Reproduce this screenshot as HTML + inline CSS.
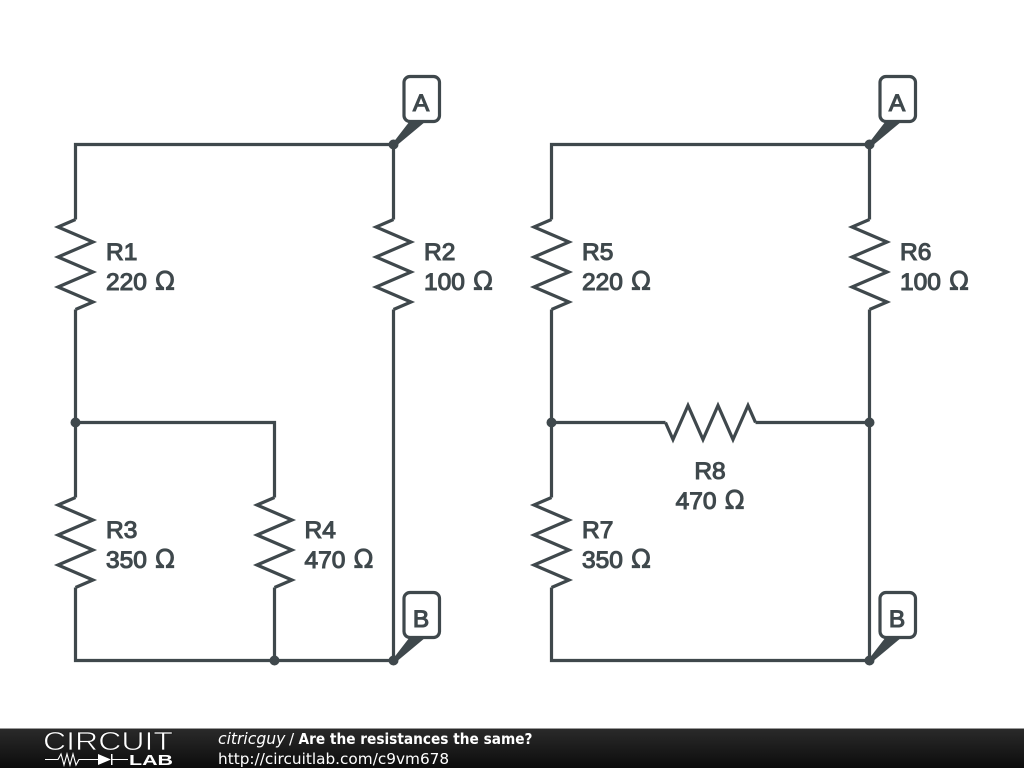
<!DOCTYPE html>
<html><head><meta charset="utf-8">
<style>
html,body{margin:0;padding:0;background:#fff;width:1024px;height:768px;overflow:hidden}
svg{display:block}
.l{font-family:"Liberation Sans",sans-serif;font-size:24.5px;fill:#3f484c;stroke:#3f484c;stroke-width:1.1px;word-spacing:1.5px}
.t{font-family:"Liberation Sans",sans-serif;font-size:24.5px;fill:#3f484c;stroke:#3f484c;stroke-width:1.1px;text-anchor:middle;word-spacing:1.5px}
.o{font-family:"DejaVu Sans",sans-serif;font-size:25.5px;stroke-width:.8px}
.f{font-family:"DejaVu Sans",sans-serif;font-size:15.3px;fill:#fff}
</style></head><body>
<svg width="1024" height="768" viewBox="0 0 1024 768" xmlns="http://www.w3.org/2000/svg">
<defs>
<linearGradient id="g" x1="0" y1="0" x2="0" y2="1"><stop offset="0" stop-color="#2a2a2a"/><stop offset="1" stop-color="#0c0c0c"/></linearGradient>
</defs>
<rect width="1024" height="768" fill="#fff"/>
<g transform="translate(.5 .5)">
<g fill="none" stroke="#3f484c" stroke-width="3.2" stroke-linejoin="miter" stroke-linecap="butt">
<path d="M393 144H75V219M393 144V219M75 309V497M393 309V660M75 422H274V497M75 587V660H393M274 587V660"/>
<path d="M75 219L57.500 226.500L92.500 241.500L57.500 256.500L92.500 271.500L57.500 286.500L92.500 301.500L75 309"/>
<path d="M393 219L375.500 226.500L410.500 241.500L375.500 256.500L410.500 271.500L375.500 286.500L410.500 301.500L393 309"/>
<path d="M75 497L57.500 504.500L92.500 519.500L57.500 534.500L92.500 549.500L57.500 564.500L92.500 579.500L75 587"/>
<path d="M274 497L256.500 504.500L291.500 519.500L256.500 534.500L291.500 549.500L256.500 564.500L291.500 579.500L274 587"/>
<path d="M869 144H551V219M869 144V219M551 309V497M869 309V660M551 422H665M755 422H869M551 587V660H869"/>
<path d="M551 219L533.500 226.500L568.500 241.500L533.500 256.500L568.500 271.500L533.500 286.500L568.500 301.500L551 309"/>
<path d="M869 219L851.500 226.500L886.500 241.500L851.500 256.500L886.500 271.500L851.500 286.500L886.500 301.500L869 309"/>
<path d="M551 497L533.500 504.500L568.500 519.500L533.500 534.500L568.500 549.500L533.500 564.500L568.500 579.500L551 587"/>
<path d="M665 422L672.500 439L687.500 405L702.500 439L717.500 405L732.500 439L747.500 405L755 422"/>
</g>
<g fill="#3f484c">
<circle cx="393" cy="144" r="5"/><circle cx="75" cy="422" r="5"/><circle cx="274" cy="660" r="5"/><circle cx="393" cy="660" r="5"/>
<circle cx="869" cy="144" r="5"/><circle cx="551" cy="422" r="5"/><circle cx="869" cy="422" r="5"/><circle cx="869" cy="660" r="5"/>
<path d="M392 143L409 121L425 121L395 146Z"/>
<path d="M868 143L885 121L901 121L871 146Z"/>
<path d="M392 659L409 637L425 637L395 662Z"/>
<path d="M868 659L885 637L901 637L871 662Z"/>
</g>
<g fill="#fff" stroke="#3f484c" stroke-width="3.200">
<rect x="403.500" y="76" width="35.500" height="45" rx="6"/>
<rect x="879.500" y="76" width="35.500" height="45" rx="6"/>
<rect x="403.500" y="592" width="35.500" height="45" rx="6"/>
<rect x="879.500" y="592" width="35.500" height="45" rx="6"/>
</g>
</g>
<text class="t" x="421" y="111">A</text>
<text class="t" x="897" y="111">A</text>
<text class="t" x="421" y="627">B</text>
<text class="t" x="897" y="627">B</text>
<text class="l" x="106" y="260">R1</text><text class="l" x="106" y="290">220 <tspan class="o">Ω</tspan></text>
<text class="l" x="424" y="260">R2</text><text class="l" x="424" y="290">100 <tspan class="o">Ω</tspan></text>
<text class="l" x="106" y="538">R3</text><text class="l" x="106" y="568">350 <tspan class="o">Ω</tspan></text>
<text class="l" x="304.500" y="538">R4</text><text class="l" x="304.500" y="568">470 <tspan class="o">Ω</tspan></text>
<text class="l" x="582" y="260">R5</text><text class="l" x="582" y="290">220 <tspan class="o">Ω</tspan></text>
<text class="l" x="900" y="260">R6</text><text class="l" x="900" y="290">100 <tspan class="o">Ω</tspan></text>
<text class="l" x="582" y="538">R7</text><text class="l" x="582" y="568">350 <tspan class="o">Ω</tspan></text>
<text class="t" x="710" y="479">R8</text><text class="t" x="710" y="509">470 <tspan class="o">Ω</tspan></text>
<rect x="0" y="728" width="1024" height="1" fill="#999"/>
<rect x="0" y="729" width="1024" height="39" fill="url(#g)"/>
<text x="43" y="750" font-family="Liberation Sans,sans-serif" font-size="26" textLength="130" lengthAdjust="spacingAndGlyphs" fill="#fff" stroke="#1c1c1c" stroke-width=".7" paint-order="fill stroke">CIRCUIT</text>
<path d="M45 759.500H58L61 754L64 765L67 754L70 765L73 754L76 765L79 759.500H98M111 759.500H128" fill="none" stroke="#fff" stroke-width="1.100"/>
<path d="M98 754V765L111 759.500Z" fill="#fff"/>
<rect x="111" y="754" width="1.500" height="11" fill="#fff"/>
<text x="129" y="765" font-family="Liberation Sans,sans-serif" font-weight="bold" font-size="15" textLength="44" lengthAdjust="spacingAndGlyphs" fill="#fff">LAB</text>
<text class="f" x="218" y="744"><tspan font-style="italic" font-size="15.600">citricguy</tspan></text>
<text class="f" x="289" y="744">/</text>
<text class="f" x="298.500" y="744" font-weight="bold" font-size="14" textLength="234" lengthAdjust="spacingAndGlyphs">Are the resistances the same?</text>
<text class="f" x="218" y="764">http://circuitlab.com/c9vm678</text>
</svg>
</body></html>
